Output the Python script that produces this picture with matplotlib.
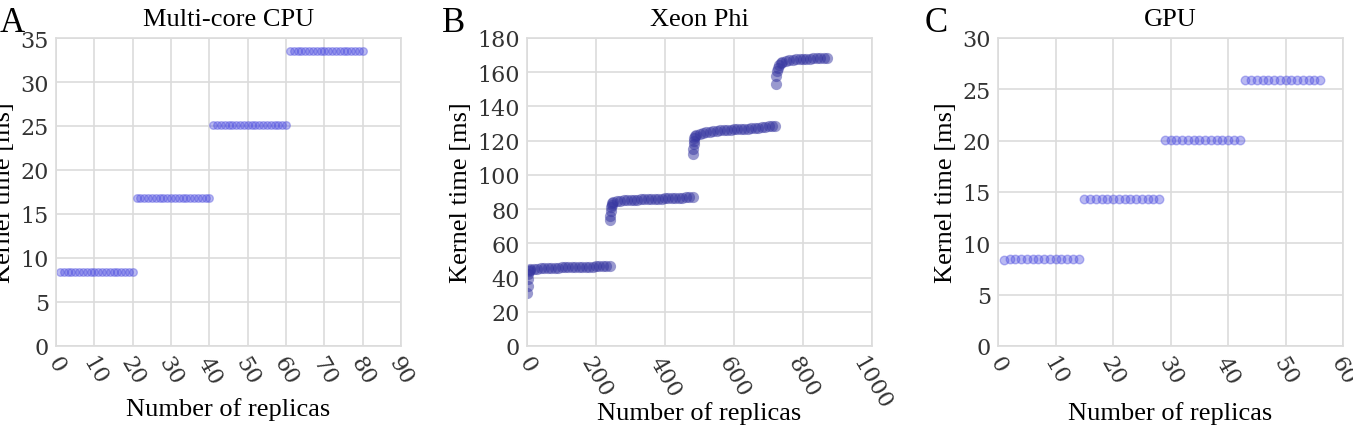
import numpy as np
import matplotlib
matplotlib.use("Agg")
import matplotlib.pyplot as plt

# Panel A: multi-core CPU
cpu_replicas = np.arange(1, 81)
cpu_levels = [8.4, 16.8, 25.1, 33.5]
cpu_group_size = 20

# Panel B: Xeon Phi (sampled, transients at the start of each group)
phi_x = [1, 2, 3, 4, 5, 8, 10, 20, 30, 40, 50, 60, 70, 80, 90, 100, 110, 120,
         130, 140, 150, 160, 170, 180, 190, 200, 210, 220, 230, 240,
         241, 242, 243, 244, 245, 247, 250, 260, 270, 280, 290, 300, 310, 320,
         330, 340, 350, 360, 370, 380, 390, 400, 410, 420, 430, 440, 450, 460,
         470, 480,
         481, 482, 483, 484, 485, 487, 490, 500, 510, 520, 530, 540, 550, 560,
         570, 580, 590, 600, 610, 620, 630, 640, 650, 660, 670, 680, 690, 700,
         710, 720,
         721, 723, 725, 727, 730, 735, 740, 750, 760, 770, 780, 790, 800, 810,
         820, 830, 840, 850, 860, 870]
phi_y = [31, 35, 39, 42, 44, 44.5, 44.8, 45.0, 45.1, 45.3, 45.4, 45.5, 45.6,
         45.7, 45.8, 46.0, 45.9, 46.0, 46.0, 46.1, 46.2, 46.2, 46.3, 46.4, 46.4,
         46.5, 46.6, 46.7, 46.8, 47.0,
         73.5, 76, 79, 81, 82.5, 83.5, 84.2, 84.6, 84.9, 85.1, 85.3, 85.4, 85.5,
         85.6, 85.7, 85.8, 85.9, 86.0, 86.1, 86.2, 86.2, 86.3, 86.4, 86.5, 86.6,
         86.6, 86.7, 86.8, 86.9, 87.0,
         112, 115, 118, 120, 121.5, 122.5, 123.3, 124.0, 124.6, 125.0, 125.3,
         125.6, 125.8, 126.0, 126.2, 126.3, 126.5, 126.6, 126.7, 126.8, 126.9,
         127.0, 127.2, 127.4, 127.6, 127.8, 128.0, 128.3, 128.6, 128.8,
         153, 158, 160.5, 162.5, 164, 165.2, 166, 166.6, 167.0, 167.3, 167.5,
         167.7, 167.8, 167.9, 168.0, 168.1, 168.2, 168.3, 168.4, 168.5]

# Panel C: GPU
gpu_replicas = np.arange(1, 57)
gpu_levels = [8.5, 14.3, 20.1, 25.9]
gpu_group_size = 14

cpu_times = np.repeat(cpu_levels, cpu_group_size)
gpu_times = np.repeat(gpu_levels, gpu_group_size)
gpu_times[0] = 8.4

W, H = 1353, 431
fig = plt.figure(figsize=(W / 100, H / 100), dpi=100)

label_font = dict(family="Liberation Serif", size=19)
tick_font = "DejaVu Serif"

# letter, title, axes left px, ymax, ystep, xmax, xstep, letter x px, xlabel y
panels = [
    ("A", "Multi-core CPU", 56, 35, 5, 90, 10, 0, -0.165),
    ("B", "Xeon Phi", 527, 180, 20, 1000, 200, 442, -0.18),
    ("C", "GPU", 998, 30, 5, 60, 10, 925, -0.18),
]

axes = []
for letter, title, left, ymax, ystep, xmax, xstep, lx, xly in panels:
    ax = fig.add_axes([left / W, 1 - 347 / H, 345 / W, 308 / H])
    ax.set_xlim(0, xmax)
    ax.set_ylim(0, ymax)
    ax.set_xticks(np.arange(0, xmax + 1, xstep))
    ax.set_yticks(np.arange(0, ymax + 1, ystep))
    ax.grid(True, color="#dcdcdc", lw=1.2)
    ax.set_axisbelow(True)
    for sp in ax.spines.values():
        sp.set_color("#dcdcdc")
        sp.set_linewidth(1.2)
    ax.tick_params(length=0, labelsize=16, labelcolor="#333333", pad=5)
    for lab in ax.get_xticklabels() + ax.get_yticklabels():
        lab.set_family(tick_font)
    plt.setp(ax.get_xticklabels(), rotation=-60, ha="center")
    ax.set_title(title, pad=9, **label_font)
    ax.set_xlabel("Number of replicas", **label_font)
    ax.xaxis.set_label_coords(0.5, xly)
    ax.set_ylabel("Kernel time [ms]", labelpad=4, **label_font)
    fig.text(lx / W, 1 - 32 / H, letter, family="Liberation Serif",
             size=25, va="baseline")
    axes.append(ax)

light = "#5252e0"
axes[0].scatter(cpu_replicas, cpu_times, s=30, color=light, alpha=0.4, lw=1)
axes[1].scatter(phi_x, phi_y, s=65, color="#3535a0", alpha=0.5, lw=0)
axes[2].scatter(gpu_replicas, gpu_times, s=38, color=light, alpha=0.4, lw=1)

fig.savefig("out.png", dpi=100)
